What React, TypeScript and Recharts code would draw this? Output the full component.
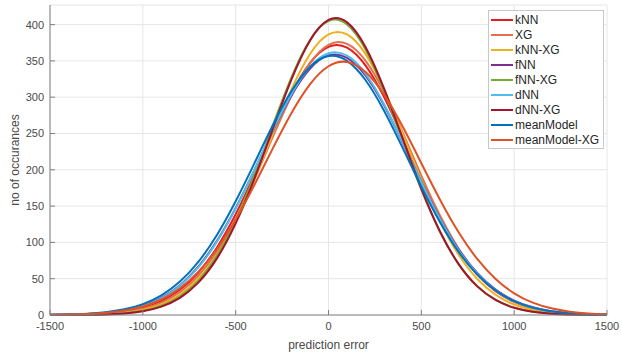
import { LineChart, Line, XAxis, YAxis, CartesianGrid } from 'recharts';

// prediction error bins
const errors = [
  -1500, -1400, -1300, -1200, -1100, -1000, -900, -800, -700, -600, -500, -400, -300, -200, -100,
  0, 100, 200, 300, 400, 500, 600, 700, 800, 900, 1000, 1100, 1200, 1300, 1400, 1500,
];

const kNN = [0.1, 0.4, 0.9, 2.2, 4.8, 9.9, 19.2, 34.7, 58.9, 93.4, 138.7, 192.7, 250.5, 304.7, 346.9,
  369.5, 368.3, 343.5, 299.8, 244.8, 187.0, 133.7, 89.5, 56.0, 32.8, 18.0, 9.2, 4.4, 2.0, 0.8, 0.3];
const XG = [0.1, 0.3, 0.7, 1.8, 4.1, 8.6, 17.1, 31.5, 54.4, 87.8, 132.3, 186.3, 245.3, 301.6, 346.6,
  372.2, 373.4, 350.1, 306.8, 251.1, 192.1, 137.3, 91.7, 57.3, 33.4, 18.2, 9.3, 4.4, 2.0, 0.8, 0.3];
const kNNXG = [0.0, 0.2, 0.5, 1.3, 3.1, 7.0, 14.4, 27.9, 50.0, 83.3, 129.2, 186.1, 249.3, 310.4, 359.2,
  386.4, 386.4, 359.2, 310.4, 249.3, 186.1, 129.2, 83.3, 50.0, 27.9, 14.4, 7.0, 3.1, 1.3, 0.5, 0.2];
const fNN = [0.2, 0.6, 1.4, 3.1, 6.5, 12.8, 23.7, 41.1, 66.9, 102.5, 147.4, 199.3, 253.2, 302.4, 339.2,
  357.6, 354.3, 329.8, 288.6, 237.2, 183.3, 133.0, 90.8, 58.2, 35.0, 19.9, 10.6, 5.3, 2.5, 1.1, 0.5];
const fNNXG = [0.0, 0.1, 0.3, 1.0, 2.5, 5.8, 12.7, 25.6, 47.7, 82.2, 130.7, 192.1, 260.8, 326.9, 378.6,
  405.0, 400.2, 365.3, 308.0, 239.9, 172.6, 114.7, 70.4, 39.9, 20.9, 10.1, 4.5, 1.9, 0.7, 0.2, 0.0];
const dNN = [0.2, 0.5, 1.3, 2.9, 6.2, 12.3, 22.9, 40.1, 65.8, 101.4, 146.7, 199.2, 254.0, 304.1, 341.8,
  360.6, 357.2, 332.2, 290.0, 237.7, 183.0, 132.2, 89.6, 57.1, 34.1, 19.1, 10.1, 5.0, 2.3, 1.0, 0.4];
const dNNXG = [0.0, 0.1, 0.3, 0.8, 2.2, 5.2, 11.6, 23.7, 44.9, 78.3, 126.1, 187.3, 256.5, 324.2, 377.9,
  406.4, 403.1, 368.9, 311.4, 242.5, 174.2, 115.4, 70.5, 39.8, 20.7, 9.9, 4.4, 1.8, 0.7, 0.2, 0.0];
const meanModel = [0.3, 0.8, 1.8, 3.8, 7.8, 15.0, 27.1, 46.0, 73.5, 110.6, 156.6, 208.5, 261.3, 308.1, 341.7,
  356.6, 350.1, 323.4, 281.1, 229.9, 176.9, 128.0, 87.2, 55.9, 33.7, 19.1, 10.2, 5.1, 2.4, 1.1, 0.4];
const meanModelXG = [0.2, 0.6, 1.4, 3.0, 6.1, 11.8, 21.5, 36.9, 59.7, 91.2, 131.4, 178.8, 229.5, 277.9, 317.7,
  342.6, 348.6, 334.7, 303.2, 259.2, 209.1, 159.2, 114.3, 77.5, 49.6, 29.9, 17.0, 9.2, 4.6, 2.2, 1.0];

const xTicks = [-1500, -1000, -500, 0, 500, 1000, 1500];
const yTicks = [0, 50, 100, 150, 200, 250, 300, 350, 400];

const series = [
  { key: 'kNN', values: kNN, color: '#e61c22' },
  { key: 'XG', values: XG, color: '#e4714a' },
  { key: 'kNN-XG', values: kNNXG, color: '#EDB120' },
  { key: 'fNN', values: fNN, color: '#7E2F8E' },
  { key: 'fNN-XG', values: fNNXG, color: '#77AC30' },
  { key: 'dNN', values: dNN, color: '#4DBEEE' },
  { key: 'dNN-XG', values: dNNXG, color: '#A2142F' },
  { key: 'meanModel', values: meanModel, color: '#0072BD' },
  { key: 'meanModel-XG', values: meanModelXG, color: '#df5226' },
];

const data = errors.map((e, i) => {
  const row: Record<string, number> = { err: e };
  series.forEach(s => { row[s.key] = s.values[i]; });
  return row;
});

const FONT = '"Liberation Sans", Arial, sans-serif';
const AXIS = '#808080';
const TEXT = '#4a4a4a';

// legend drawn as an overlay so it doesn't shrink the plot area
function LegendBox() {
  return (
    <div style={{
      position: 'absolute', left: 488, top: 10, background: '#fff', border: '1px solid #c8c8c8',
      padding: '1px 4px 1px 2px', fontFamily: FONT, fontSize: 12, color: '#262626', lineHeight: 1,
    }}>
      {series.map(s => (
        <div key={s.key} style={{ display: 'flex', alignItems: 'center', height: 15 }}>
          <span style={{ display: 'inline-block', width: 22, height: 2, background: s.color, marginRight: 2 }} />
          <span>{s.key}</span>
        </div>
      ))}
    </div>
  );
}

export default function App() {
  return (
    <div style={{ position: 'absolute', left: 0, top: 0, width: 622, height: 352, background: '#fff' }}>
      <LineChart width={622} height={352} data={data} margin={{ top: 5, right: 15, left: 0, bottom: 0 }}>
        <CartesianGrid stroke="#e6e6e6" strokeWidth={1} />
        <XAxis
          dataKey="err"
          type="number"
          domain={[-1500, 1500]}
          ticks={xTicks}
          height={37}
          stroke={AXIS}
          tickSize={-5}
          tickMargin={12}
          tick={{ fill: TEXT, fontSize: 11, fontFamily: FONT }}
          label={{ value: 'prediction error', position: 'insideBottom', offset: 3, fill: TEXT, fontSize: 12, fontFamily: FONT }}
        />
        <XAxis xAxisId="top" dataKey="err" type="number" domain={[-1500, 1500]} ticks={xTicks} orientation="top" height={0} stroke={AXIS} tickSize={-5} tickFormatter={() => ''} />
        <YAxis
          type="number"
          domain={[0, 427]}
          ticks={yTicks}
          width={50}
          stroke={AXIS}
          tickSize={-5}
          tickMargin={11}
          tick={{ fill: TEXT, fontSize: 11, fontFamily: FONT }}
          label={{ value: 'no of occurances', angle: -90, position: 'insideLeft', offset: 15, fill: TEXT, fontSize: 12, fontFamily: FONT, style: { textAnchor: 'middle' } }}
        />
        <YAxis yAxisId="right" type="number" domain={[0, 427]} ticks={yTicks} orientation="right" width={0} stroke={AXIS} tickSize={-5} tickFormatter={() => ''} />
        {series.map(s => (
          <Line key={s.key} type="natural" dataKey={s.key} stroke={s.color} strokeWidth={2} dot={false} isAnimationActive={false} />
        ))}
      </LineChart>
      <LegendBox />
    </div>
  );
}
